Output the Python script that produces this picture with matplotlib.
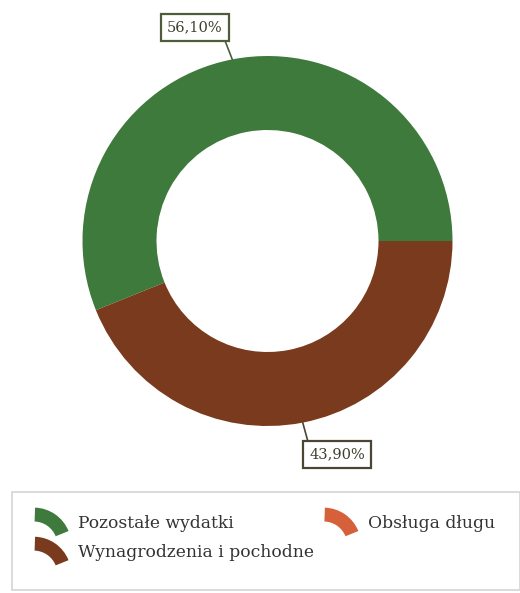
import numpy as np
import matplotlib
matplotlib.use("Agg")
import matplotlib.pyplot as plt
from matplotlib.patches import Wedge, Rectangle
from matplotlib.legend_handler import HandlerBase

categories = ["Pozostałe wydatki", "Wynagrodzenia i pochodne", "Obsługa długu"]
values = [56.10, 43.90, 0.0]
labels = ["56,10%", "43,90%", None]
colors = ["#3e7a3b", "#7a3a1d", "#d6603a"]

W, H = 520, 593
fig = plt.figure(figsize=(W / 100, H / 100), dpi=100)
fig.patch.set_facecolor("white")

cx, cy, R = 267.5, 241.0, 185.0
ax = fig.add_axes([(cx - R) / W, (H - cy - R) / H, 2 * R / W, 2 * R / H])

wedges, _ = ax.pie(values, colors=colors, startangle=0, counterclock=True,
                   radius=1.0, wedgeprops=dict(width=0.40, linewidth=0),
                   normalize=True)
ax.set_xlim(-1, 1)
ax.set_ylim(-1, 1)
ax.axis("off")
for w in wedges:
    w.set_clip_on(False)

offsets = [(-27, 23), (25, -23)]
relpos = [(1.0, 0.0), (0.0, 1.0)]
edgecols = ["#4f5c3c", "#4a4535"]
for w, lab, off, rp, ec in zip(wedges, labels, offsets, relpos, edgecols):
    if lab is None:
        continue
    ang = np.deg2rad((w.theta1 + w.theta2) / 2)
    xy = (np.cos(ang), np.sin(ang))
    ax.annotate(lab, xy=xy, xytext=off, textcoords="offset points",
                ha="center", va="center", fontsize=10.5, family="DejaVu Serif",
                color="#3f3f30", annotation_clip=False,
                bbox=dict(boxstyle="square,pad=0.42", fc="white", ec=ec, lw=1.6),
                arrowprops=dict(arrowstyle="-", color=ec, lw=1.2, relpos=rp,
                                shrinkA=0, shrinkB=0))


class ArcHandler(HandlerBase):
    def create_artists(self, legend, orig_handle, xdescent, ydescent, width,
                       height, fontsize, trans):
        r = 27.0
        cxh = -xdescent - 2.0
        cyh = -ydescent + height / 2 + 10.5 - r
        p = Wedge((cxh, cyh), r, 22, 88, width=10.0,
                  facecolor=orig_handle.get_facecolor(), edgecolor="none",
                  transform=trans)
        return [p]


# legend frame
fig.patches.append(Rectangle((12 / W, 1 - 590 / H), (W - 12) / W, 98 / H,
                             transform=fig.transFigure, fill=False,
                             edgecolor="#d4d4d4", lw=1.2))

leg = fig.legend(list(wedges), categories,
                 handler_map={Wedge: ArcHandler()},
                 loc="upper left", bbox_to_anchor=(28 / W, 1 - 506 / H),
                 ncol=2, frameon=False,
                 prop=dict(family="DejaVu Serif", size=12.3),
                 handlelength=1.95, handleheight=1.0, handletextpad=0.5,
                 columnspacing=0.7, labelspacing=0.68, borderpad=0,
                 labelcolor="#333333")

fig.savefig("out.png", dpi=100, facecolor="white")
